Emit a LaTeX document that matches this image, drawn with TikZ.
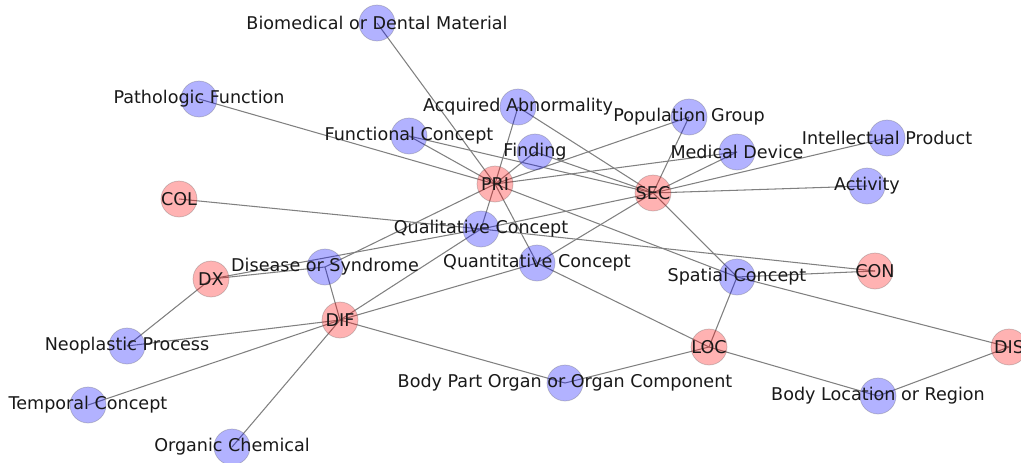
\documentclass[tikz,border=0pt]{standalone}
\usepackage{fontspec}
\setmainfont{DejaVu Sans}
\usetikzlibrary{backgrounds}

\tikzset{
  tnode/.style={circle, minimum size=0.72cm, inner sep=0pt, fill=blue, fill opacity=0.3,
    draw=black!60, draw opacity=0.35, line width=0.4pt,
    label={[text opacity=1, text=black!90, font=\fontsize{10}{12}\selectfont]center:#1}},
  cnode/.style={tnode={#1}, fill=red},
  link/.style={draw=black!50, line width=0.6pt}
}

\begin{document}
\begin{tikzpicture}[x=0.02cm, y=-0.02cm]
      \useasboundingbox (0,0) rectangle (1021,463);
      % categories
      \node[cnode=PRI] (pri) at (495,184) {};
      \node[cnode=SEC] (sec) at (653,193) {};
      \node[cnode=COL] (col) at (179,199) {};
      \node[cnode=CON] (con) at (875,271) {};
      \node[cnode=DX] (dx) at (211,279) {};
      \node[cnode=DIF] (dif) at (340,320) {};
      \node[cnode=LOC] (loc) at (709,347) {};
      \node[cnode=DIS] (dis) at (1009,347) {};
      % semantic types
      \node[tnode=Biomedical or Dental Material] (bdm) at (377,23) {};
      \node[tnode=Pathologic Function] (pf) at (199,99) {};
      \node[tnode=Acquired Abnormality] (aa) at (518,107) {};
      \node[tnode=Population Group] (pg) at (689,117) {};
      \node[tnode=Functional Concept] (fc) at (409,136) {};
      \node[tnode=Intellectual Product] (ip) at (887,138) {};
      \node[tnode=Finding] (fin) at (535,152) {};
      \node[tnode=Medical Device] (md) at (737,152) {};
      \node[tnode=Activity] (act) at (867,186) {};
      \node[tnode=Qualitative Concept] (qlc) at (481,229) {};
      \node[tnode=Quantitative Concept] (qnc) at (537,263) {};
      \node[tnode=Disease or Syndrome] (ds) at (325,267) {};
      \node[tnode=Spatial Concept] (spc) at (737,277) {};
      \node[tnode=Neoplastic Process] (np) at (127,346) {};
      \node[tnode=Body Part Organ or Organ Component] (bpo) at (565,383) {};
      \node[tnode=Body Location or Region] (blr) at (878,396) {};
      \node[tnode=Temporal Concept] (tc) at (88,405) {};
      \node[tnode=Organic Chemical] (oc) at (232,447) {};
      % links
      \begin{scope}[on background layer]
        \foreach \t in {bdm,pf,fc,aa,fin,pg,md,qlc,qnc,ds,spc}
          \draw[link] (pri.center) -- (\t.center);
        \foreach \t in {aa,fc,fin,pg,md,ip,act,spc,qnc,qlc}
          \draw[link] (sec.center) -- (\t.center);
        \foreach \t in {ds,qlc,qnc,np,tc,oc,bpo}
          \draw[link] (dif.center) -- (\t.center);
        \foreach \t in {spc,qnc,bpo,blr}
          \draw[link] (loc.center) -- (\t.center);
        \foreach \t in {ds,qlc,np}
          \draw[link] (dx.center) -- (\t.center);
        \draw[link] (col.center) -- (qlc.center);
        \draw[link] (con.center) -- (qlc.center);
        \draw[link] (con.center) -- (spc.center);
        \draw[link] (dis.center) -- (spc.center);
        \draw[link] (dis.center) -- (blr.center);
      \end{scope}
    \end{tikzpicture}
\end{document}
